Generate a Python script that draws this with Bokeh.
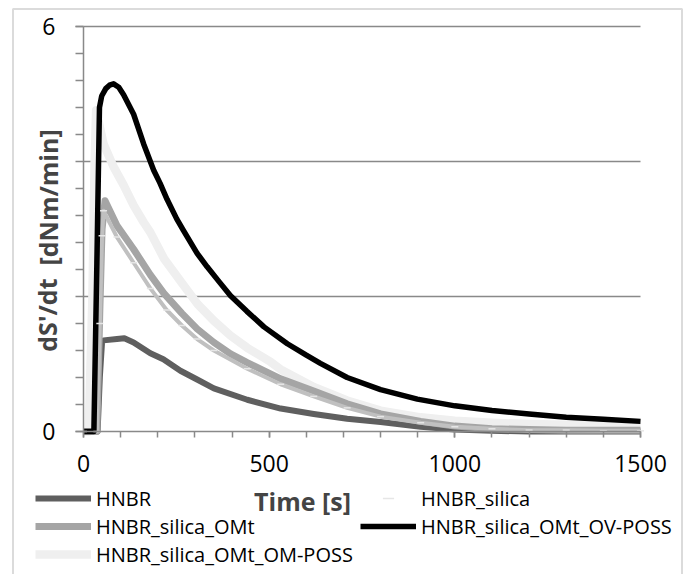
from bokeh.plotting import figure
from bokeh.models import Range1d, FixedTicker, Legend, LegendItem, Label, PolyAnnotation
from bokeh.embed import file_html
from bokeh.resources import INLINE

# ---- data ----
t_hnbr = [0, 38, 44, 50, 54, 90, 110, 135, 180, 215, 261, 306, 351, 441, 531, 620, 710, 800, 908, 1000, 1100, 1200, 1300, 1400, 1500]
y_hnbr = [0, 0, 0.8, 1.33, 1.35, 1.37, 1.38, 1.32, 1.16, 1.07, 0.90, 0.77, 0.64, 0.47, 0.34, 0.26, 0.19, 0.14, 0.07, 0.03, 0.01, 0.0, 0.0, 0.0, 0.0]

t_sil = [0, 36, 44, 50, 54, 90, 135, 180, 224, 265, 306, 351, 441, 531, 620, 710, 800, 908, 1000, 1100, 1200, 1300, 1400, 1500]
y_sil = [0, 0, 1.6, 2.9, 3.27, 2.88, 2.50, 2.12, 1.80, 1.57, 1.37, 1.20, 0.93, 0.70, 0.52, 0.35, 0.22, 0.13, 0.07, 0.04, 0.02, 0.02, 0.01, 0.01]

t_omt = [0, 36, 44, 50, 58, 90, 117, 135, 180, 216, 265, 306, 351, 396, 441, 531, 620, 710, 800, 908, 1000, 1100, 1200, 1300, 1400, 1500]
y_omt = [0, 0, 1.8, 3.0, 3.42, 3.05, 2.84, 2.70, 2.32, 2.05, 1.75, 1.52, 1.32, 1.15, 1.02, 0.78, 0.60, 0.41, 0.26, 0.15, 0.08, 0.04, 0.03, 0.02, 0.02, 0.02]

t_ov = [0, 28, 36, 43, 49, 60, 70, 81, 95, 108, 135, 162, 189, 206, 225, 251, 269, 306, 333, 365, 396, 440, 486, 549, 600, 638, 710, 800, 899, 1000, 1100, 1200, 1300, 1400, 1500]
y_ov = [0, 0, 2.5, 4.8, 4.97, 5.08, 5.13, 5.15, 5.10, 4.99, 4.70, 4.26, 3.87, 3.68, 3.44, 3.15, 2.98, 2.64, 2.44, 2.22, 2.01, 1.78, 1.55, 1.30, 1.13, 1.01, 0.80, 0.62, 0.48, 0.38, 0.31, 0.26, 0.21, 0.18, 0.15]

t_om = [0, 14, 24, 30, 34, 54, 81, 108, 135, 162, 180, 217, 265, 307, 351, 396, 441, 504, 531, 620, 710, 800, 908, 1000, 1100, 1200, 1300, 1400, 1500]
y_om = [0, 0, 2.0, 4.0, 4.76, 4.26, 3.92, 3.65, 3.35, 3.10, 2.95, 2.56, 2.20, 1.89, 1.64, 1.42, 1.24, 1.03, 0.92, 0.66, 0.46, 0.31, 0.21, 0.16, 0.13, 0.11, 0.10, 0.08, 0.07]

names = ["HNBR", "HNBR_silica", "HNBR_silica_OMt", "HNBR_silica_OMt_OV-POSS", "HNBR_silica_OMt_OM-POSS"]

x_ticks = [0, 500, 1000, 1500]
x_minor = list(range(0, 1501, 100))
y_ticks = [0, 6]
y_minor = [i * 0.4 for i in range(16)]
y_grid = [2, 4, 6]

AX = "#898989"
FONT = "Open Sans"

# the frame covers the whole canvas; axes sit at fixed data locations
W, H = 686, 574
PX0, PX1, PY0, PY6 = 83.0, 640.0, 431.0, 26.0
sx = (PX1 - PX0) / 1500.0
sy = (PY0 - PY6) / 6.0
xr = Range1d(-PX0 / sx, (W - PX0) / sx)
yr = Range1d((PY0 - H) / sy, PY0 / sy)

p = figure(width=W, height=H, output_backend="svg", toolbar_location=None,
           x_range=xr, y_range=yr,
           min_border_left=0, min_border_right=0, min_border_top=0, min_border_bottom=0)
p.outline_line_color = None
p.background_fill_color = "white"
p.border_fill_color = "white"
p.xgrid.visible = False
p.ygrid.visible = False

# axes
p.xaxis.ticker = FixedTicker(ticks=x_ticks, minor_ticks=x_minor)
p.yaxis.ticker = FixedTicker(ticks=y_ticks, minor_ticks=y_minor)
p.xaxis.fixed_location = 0
p.yaxis.fixed_location = 0
p.xaxis.bounds = (x_ticks[0], x_ticks[-1])
p.yaxis.bounds = (y_ticks[0], y_ticks[-1])
for ax in (p.xaxis[0], p.yaxis[0]):
    ax.axis_line_color = AX
    ax.axis_line_width = 1.5
    ax.major_tick_line_color = AX
    ax.minor_tick_line_color = AX
    ax.major_tick_line_width = 1.5
    ax.minor_tick_line_width = 1.5
    ax.major_tick_in = 0
    ax.minor_tick_in = 0
    ax.major_label_text_font = FONT
    ax.major_label_text_font_size = "23px"
    ax.major_label_text_color = "black"
p.xaxis.major_tick_out = 6
p.xaxis.minor_tick_out = 6
p.xaxis.major_label_standoff = 17
p.yaxis.major_tick_out = 8
p.yaxis.minor_tick_out = 8
p.yaxis.major_label_standoff = 20

# horizontal gridlines, from x 0 to 1500
p.segment(x0=[x_ticks[0]] * len(y_grid), x1=[x_ticks[-1]] * len(y_grid), y0=y_grid, y1=y_grid,
          line_color=AX, line_width=1.5)

# series
r_om = p.line(t_om, y_om, line_color="#efefef", line_width=8.5, line_join="round")
r_hnbr = p.line(t_hnbr, y_hnbr, line_color="#5f5f5f", line_width=6, line_join="round")
r_omt = p.line(t_omt, y_omt, line_color="#a5a5a5", line_width=7, line_join="round")
r_sil = p.line(t_sil, y_sil, line_color="#c0c0c0", line_width=4, line_join="round")
r_ov = p.line(t_ov, y_ov, line_color="black", line_width=5.5, line_join="round")
r_silm = p.scatter(t_sil, y_sil, marker="dash", size=7, line_color="#e6e6e6", line_width=1.5)

# column-major order gives rows: HNBR | HNBR_silica ; OMt | OV-POSS ; OM-POSS
legend = Legend(items=[
    LegendItem(label=names[0], renderers=[r_hnbr]),
    LegendItem(label=names[2], renderers=[r_omt]),
    LegendItem(label=names[4], renderers=[r_om]),
    LegendItem(label=names[1], renderers=[r_silm]),
    LegendItem(label=names[3], renderers=[r_ov]),
], ncols=2, location=(35, 6))
legend.label_text_font = FONT
legend.label_text_font_size = "20px"
legend.label_text_color = "black"
legend.glyph_width = 56
legend.glyph_height = 28
legend.label_height = 28
legend.label_width = 264
legend.label_standoff = 5
legend.spacing = 0
legend.padding = 0
legend.margin = 0
legend.border_line_color = None
legend.background_fill_alpha = 0
p.add_layout(legend, "center")

# axis titles
p.add_layout(Label(x=(302 - PX0) / sx, y=(PY0 - 500) / sy, text="Time [s]", text_font=FONT,
                   text_font_size="25px", text_font_style="bold",
                   text_align="center", text_baseline="middle"))
p.add_layout(Label(x=(47 - PX0) / sx, y=(PY0 - 240) / sy, text="dS'/dt\u00a0\u00a0[dNm/min]", text_font=FONT,
                   text_font_size="25px", text_font_style="bold",
                   text_align="center", text_baseline="middle", angle=1.5707963))

# outer chart border
p.add_layout(PolyAnnotation(xs=[(12.5 - PX0) / sx, (681.5 - PX0) / sx, (681.5 - PX0) / sx, (12.5 - PX0) / sx],
                            ys=[(PY0 - 590) / sy, (PY0 - 590) / sy, (PY0 - 8.5) / sy, (PY0 - 8.5) / sy],
                            fill_alpha=0, line_color=AX, line_width=2))

open("out.html", "w").write(file_html(p, INLINE))
